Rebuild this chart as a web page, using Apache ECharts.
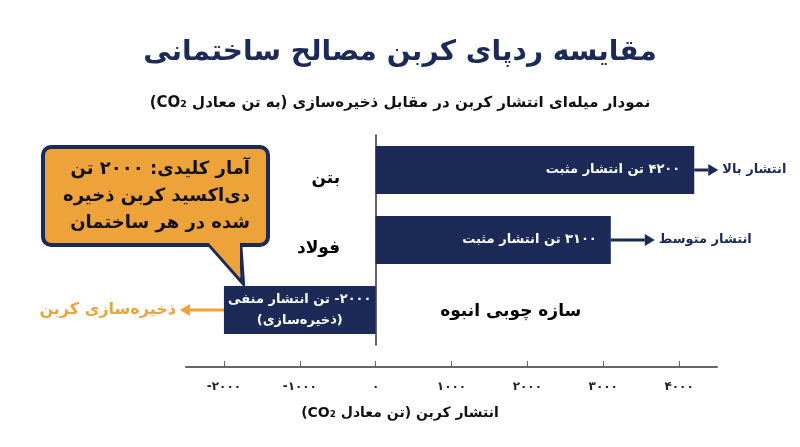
<!DOCTYPE html>
<html><head><meta charset="utf-8">
<script src="https://cdn.jsdelivr.net/npm/echarts@6/dist/echarts.min.js"></script>
<style>html,body{margin:0;background:#fff}#main{width:800px;height:447px}</style>
</head><body><div id="main" dir="rtl"></div>
<script>
var materials = ['بتن', 'فولاد', 'سازه چوبی انبوه'];
var emissions = [4200, 3100, -2000];
var tickValues = [-2000, -1000, 0, 1000, 2000, 3000, 4000];
var barTexts = ['۴۲۰۰ تن انتشار مثبت', '۳۱۰۰ تن انتشار مثبت', '۲۰۰۰- تن انتشار منفی\n(ذخیره‌سازی)'];
var sideNotes = ['انتشار بالا', 'انتشار متوسط', 'ذخیره‌سازی کربن'];
var navy = '#1b2a56', orange = '#eea33a', font = 'DejaVu Sans';

function fa(v){ return '\u200E' + String(v).replace(/\d/g, function(d){ return '۰۱۲۳۴۵۶۷۸۹'[d]; }); }

var chart = echarts.init(document.getElementById('main'));
var option = {
  animation: false,
  textStyle: {fontFamily: font},
  title: [
    {text: 'مقایسه ردپای کربن مصالح ساختمانی', left: 'center', top: 34,
     textStyle: {fontSize: 28, fontWeight: 'bold', color: navy, fontFamily: font}},
    {text: 'نمودار میله‌ای انتشار کربن در مقابل ذخیره‌سازی (به تن معادل CO₂)', left: 'center', top: 91,
     textStyle: {fontSize: 15, fontWeight: 'bold', color: '#111', fontFamily: font}},
    {text: 'انتشار کربن (تن معادل CO₂)', left: 'center', top: 401,
     textStyle: {fontSize: 14, fontWeight: 'bold', color: '#111', fontFamily: font}}
  ],
  grid: {left: 186, right: 83, top: 135, bottom: 102},
  xAxis: {
    type: 'value', min: -2500, max: 4500, offset: 22,
    axisLine: {show: true, lineStyle: {color: '#666', width: 2}},
    axisTick: {show: true, inside: true, length: 6, lineStyle: {color: '#666'}, customValues: tickValues},
    splitLine: {show: false},
    axisLabel: {color: '#222', fontWeight: 'bold', fontSize: 12, margin: 14, customValues: tickValues,
      formatter: function(v){ return fa(v); }}
  },
  yAxis: {
    type: 'category', data: materials, inverse: true,
    axisLine: {show: true, onZero: true, lineStyle: {color: '#333', width: 1.5}},
    axisTick: {show: false}, axisLabel: {show: false}
  },
  series: [
    {type: 'bar', barWidth: 48, itemStyle: {color: navy},
     data: emissions.map(function(v, i){
       return {value: v, label: i === 2 ? {position: 'inside', align: 'center'} : {}};
     }),
     label: {show: true, position: 'insideRight', distance: 14, color: '#fff', fontWeight: 'bold', fontSize: 13,
       lineHeight: 21, formatter: function(p){ return barTexts[p.dataIndex]; }}
    },
    {type: 'scatter', data: [0, 0, 0], symbolSize: 1, silent: true, itemStyle: {opacity: 0},
     label: {show: true, color: '#000', opacity: 1, fontWeight: 'bold', fontSize: 17,
       formatter: function(p){ return materials[p.dataIndex]; }},
     labelLayout: function(p){
       return p.dataIndex === 2 ? {x: p.rect.x + 65, y: p.rect.y - 6, align: 'left'} : {x: p.rect.x - 35, align: 'right'};
     }}
  ]
};
chart.setOption(option);

// annotation arrows and callout
var g = [];
emissions.forEach(function(v, i){
  var end = chart.convertToPixel({seriesIndex: 0}, [v, i]);
  var dir = v > 0 ? 1 : -1;
  var len = i === 0 ? 14 : 34;
  var col = v > 0 ? navy : orange;
  var x1 = end[0] + dir * len;
  g.push({type: 'line', shape: {x1: end[0], y1: end[1], x2: x1, y2: end[1]}, style: {stroke: col, lineWidth: 3}});
  g.push({type: 'polygon', shape: {points: [[x1, end[1] - 6], [x1, end[1] + 6], [x1 + dir * 10, end[1]]]}, style: {fill: col}});
  g.push({type: 'text', x: x1 + dir * 14, y: end[1],
    style: {text: sideNotes[i], fill: col, fontFamily: font, fontWeight: 'bold', fontSize: v > 0 ? 13 : 16,
            align: v > 0 ? 'left' : 'right', verticalAlign: 'middle'}});
});
g.push({type: 'polygon', shape: {points: [[205,240],[243,283],[240,240]]},
        style: {fill: orange, stroke: navy, lineWidth: 4}});
g.push({type: 'rect', shape: {x: 43, y: 147, width: 225, height: 98, r: 8}, style: {fill: orange, stroke: navy, lineWidth: 4}});
g.push({type: 'polygon', shape: {points: [[207,241],[240,241],[240,278]]}, style: {fill: orange}});
g.push({type: 'text', x: 250, y: 156,
  style: {text: 'آمار کلیدی: ۲۰۰۰ تن\nدی‌اکسید کربن ذخیره\nشده در هر ساختمان', fill: '#111', fontFamily: font,
          fontWeight: 'bold', fontSize: 18, lineHeight: 27, align: 'right'}});
chart.setOption({graphic: g});
</script>
</body></html>
